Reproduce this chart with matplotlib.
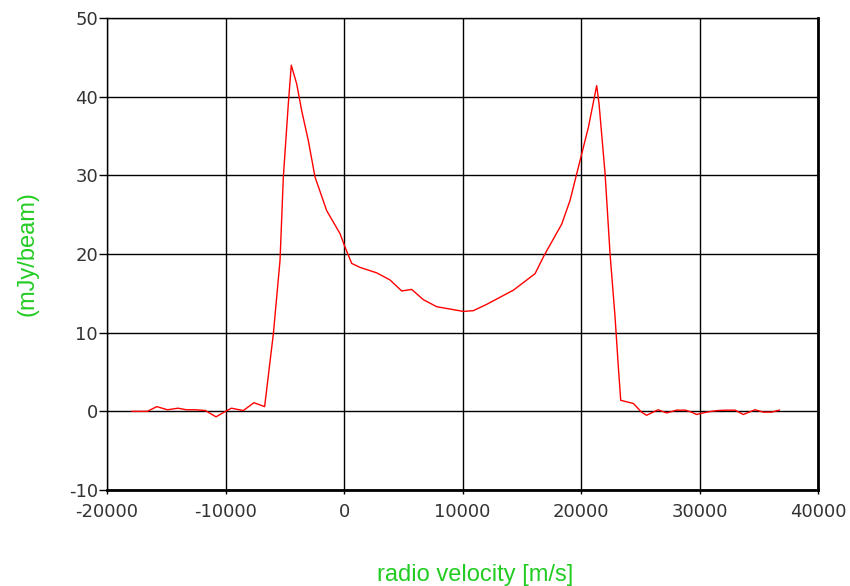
import numpy as np
import matplotlib
matplotlib.use("Agg")
import matplotlib.pyplot as plt

plt.rcParams["axes.unicode_minus"] = False

# spectrum
velocity = [-17900, -16600, -15800, -14900, -14000, -13300, -12500, -11700, -10800, -10000,
            -9500, -8500, -7600, -6700, -5960, -5400, -5120, -4700, -4450, -3990,
            -3570, -3010, -2450, -1460, -340, 80, 650, 1350, 2760, 3880,
            4870, 5710, 6690, 7820, 8950, 10070, 10910, 12040, 13160, 14290,
            16120, 16880, 18370, 19070, 19920, 20620, 21320, 21520, 22030, 22450,
            22870, 23150, 23350, 24420, 25100, 25530, 26500, 27230, 28060, 28800,
            29330, 29750, 30590, 31500, 32280, 33000, 33690, 34680, 35390, 36090,
            36730]
flux = [0, 0, 0.6, 0.2, 0.4, 0.2, 0.2, 0.1, -0.7, 0,
        0.4, 0.1, 1.1, 0.6, 9.9, 19.2, 29.8, 39.1, 44.0, 41.6,
        38.2, 34.4, 29.8, 25.5, 22.6, 20.9, 18.8, 18.3, 17.6, 16.7,
        15.3, 15.5, 14.2, 13.3, 13.0, 12.7, 12.8, 13.6, 14.5, 15.4,
        17.5, 19.8, 23.8, 26.8, 31.9, 36.1, 41.4, 39.1, 30.2, 20.0,
        12.0, 5.6, 1.4, 1.0, -0.1, -0.5, 0.2, -0.2, 0.15, 0.15,
        -0.1, -0.4, -0.1, 0.1, 0.15, 0.15, -0.4, 0.2, -0.1, -0.1,
        0.15]

xticks = [-20000, -10000, 0, 10000, 20000, 30000, 40000]
yticks = [-10, 0, 10, 20, 30, 40, 50]

fig = plt.figure(figsize=(8.5, 5.86), dpi=100)
ax = fig.add_axes([0.1259, 0.1638, 0.8365, 0.8055])

ax.plot(velocity, flux, color="#ff0000", linewidth=1.0)

ax.set_xlim(-20000, 40000)
ax.set_ylim(-10, 50)
ax.set_xticks(xticks)
ax.set_yticks(yticks)
ax.grid(True, color="black", linewidth=1.0)
ax.set_axisbelow(True)

for side in ["left", "top"]:
    ax.spines[side].set_linewidth(1.0)
for side in ["bottom", "right"]:
    ax.spines[side].set_linewidth(2.0)

ax.tick_params(axis="both", direction="out", width=1, colors="black",
               labelcolor="#333333", labelsize=13)
ax.tick_params(axis="y", length=6, pad=0.5)
ax.tick_params(axis="x", length=3, pad=6)

fig.text(0.559, 0.019, "radio velocity [m/s]", color="#22cc22",
         fontsize=17, family="Liberation Sans", ha="center", va="center")
fig.text(0.032, 0.567, "(mJy/beam)", color="#22cc22", fontsize=17,
         family="Liberation Sans", rotation=90, ha="center", va="center")

fig.savefig("out.png", dpi=100)
